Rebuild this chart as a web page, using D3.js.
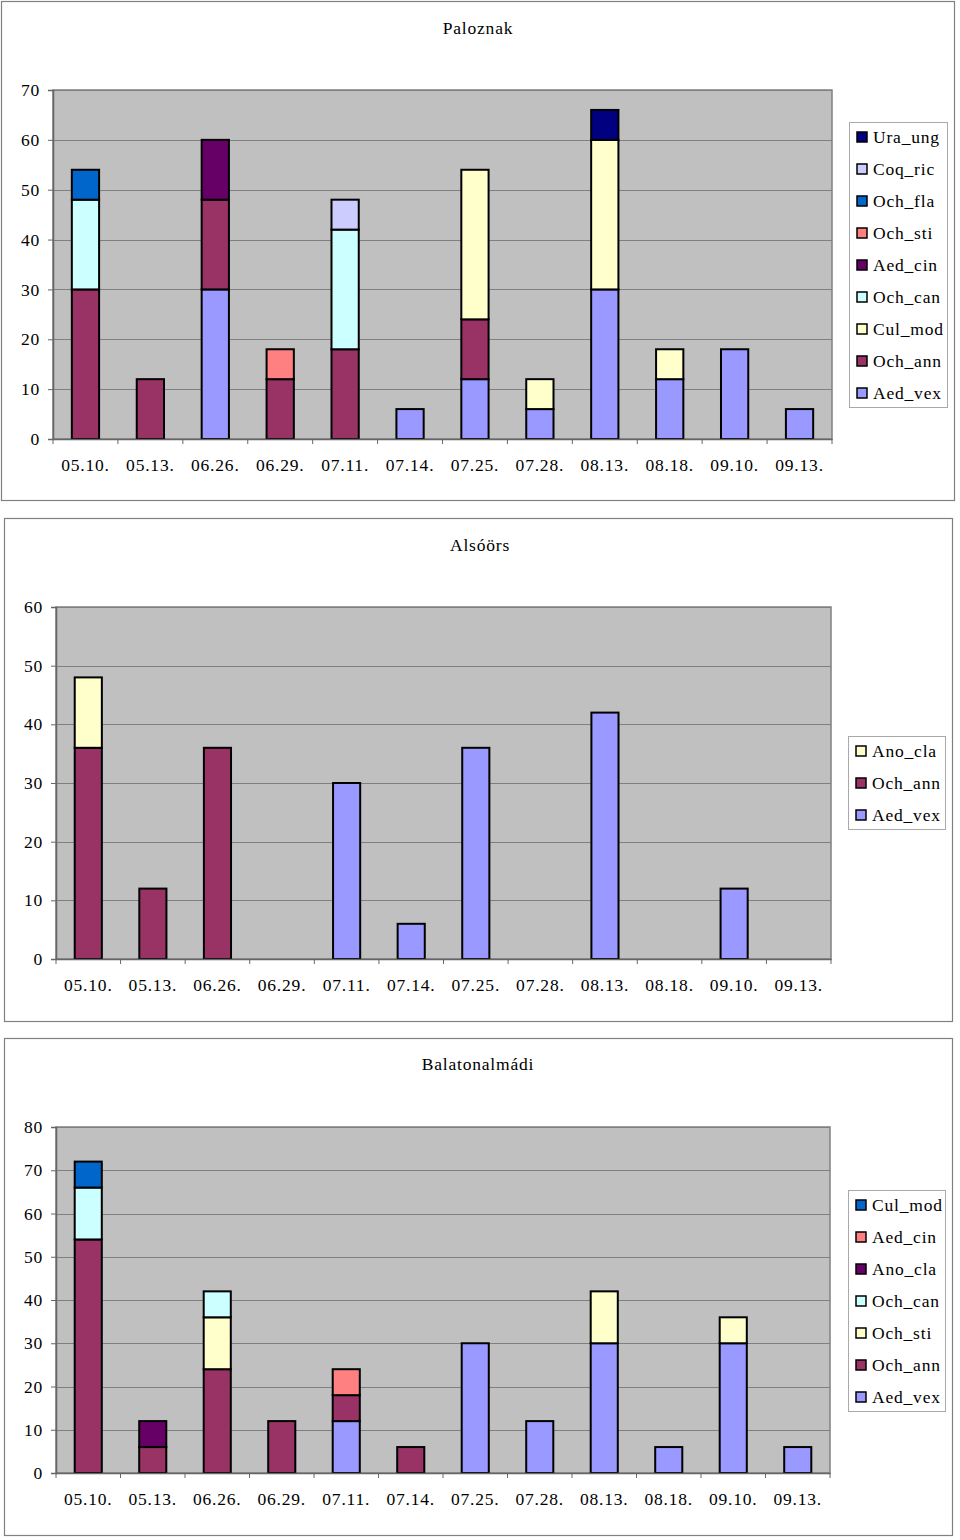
<!DOCTYPE html>
<html>
<head>
<meta charset="utf-8">
<script src="https://cdn.jsdelivr.net/npm/d3@7"></script>
<style>
  body { margin: 0; background: #fff; }
  svg text { font-family: "Liberation Serif", "Times New Roman", serif; font-size: 17.5px; letter-spacing: 0.8px; fill: #000; }
</style>
</head>
<body>
<svg id="chart" width="960" height="1540"></svg>
<script>
// ---------- DATA ----------
const categories = ["05.10.", "05.13.", "06.26.", "06.29.", "07.11.", "07.14.", "07.25.", "07.28.", "08.13.", "08.18.", "09.10.", "09.13."];

// Paloznak (stack order bottom -> top)
const palSeries = ["Aed_vex", "Och_ann", "Cul_mod", "Och_can", "Aed_cin", "Och_sti", "Och_fla", "Coq_ric", "Ura_ung"];
const palColors = ["#9999FF", "#993366", "#FFFFCC", "#CCFFFF", "#660066", "#FF8080", "#0066CC", "#CCCCFF", "#000080"];
const palAedVex = [0, 0, 30, 0, 0, 6, 12, 6, 30, 12, 18, 6];
const palOchAnn = [30, 12, 18, 12, 18, 0, 12, 0, 0, 0, 0, 0];
const palCulMod = [0, 0, 0, 0, 0, 0, 30, 6, 30, 6, 0, 0];
const palOchCan = [18, 0, 0, 0, 24, 0, 0, 0, 0, 0, 0, 0];
const palAedCin = [0, 0, 12, 0, 0, 0, 0, 0, 0, 0, 0, 0];
const palOchSti = [0, 0, 0, 6, 0, 0, 0, 0, 0, 0, 0, 0];
const palOchFla = [6, 0, 0, 0, 0, 0, 0, 0, 0, 0, 0, 0];
const palCoqRic = [0, 0, 0, 0, 6, 0, 0, 0, 0, 0, 0, 0];
const palUraUng = [0, 0, 0, 0, 0, 0, 0, 0, 6, 0, 0, 0];
const palTicks = [0, 10, 20, 30, 40, 50, 60, 70];

// Alsóörs
const alsSeries = ["Aed_vex", "Och_ann", "Ano_cla"];
const alsColors = ["#9999FF", "#993366", "#FFFFCC"];
const alsAedVex = [0, 0, 0, 0, 30, 6, 36, 0, 42, 0, 12, 0];
const alsOchAnn = [36, 12, 36, 0, 0, 0, 0, 0, 0, 0, 0, 0];
const alsAnoCla = [12, 0, 0, 0, 0, 0, 0, 0, 0, 0, 0, 0];
const alsTicks = [0, 10, 20, 30, 40, 50, 60];

// Balatonalmádi
const balSeries = ["Aed_vex", "Och_ann", "Och_sti", "Och_can", "Ano_cla", "Aed_cin", "Cul_mod"];
const balColors = ["#9999FF", "#993366", "#FFFFCC", "#CCFFFF", "#660066", "#FF8080", "#0066CC"];
const balAedVex = [0, 0, 0, 0, 12, 0, 30, 12, 30, 6, 30, 6];
const balOchAnn = [54, 6, 24, 12, 6, 6, 0, 0, 0, 0, 0, 0];
const balOchSti = [0, 0, 12, 0, 0, 0, 0, 0, 12, 0, 6, 0];
const balOchCan = [12, 0, 6, 0, 0, 0, 0, 0, 0, 0, 0, 0];
const balAnoCla = [0, 6, 0, 0, 0, 0, 0, 0, 0, 0, 0, 0];
const balAedCin = [0, 0, 0, 0, 6, 0, 0, 0, 0, 0, 0, 0];
const balCulMod = [6, 0, 0, 0, 0, 0, 0, 0, 0, 0, 0, 0];
const balTicks = [0, 10, 20, 30, 40, 50, 60, 70, 80];

// ---------- DRAW ----------
const svg = d3.select("#chart");

function drawPanel(p) {
  const g = svg.append("g");
  // outer frame
  g.append("rect").attr("x", p.frame[0] + 0.5).attr("y", p.frame[1] + 0.5)
    .attr("width", p.frame[2]).attr("height", p.frame[3])
    .attr("fill", "#fff").attr("stroke", "#808080").attr("stroke-width", 1.2);

  // title
  g.append("text").attr("x", p.titleX).attr("y", p.titleY).attr("text-anchor", "middle")
    .text(p.title);

  const x = d3.scaleBand().domain(categories).range([p.plot[0], p.plot[2]]).padding(0);
  const y = d3.scaleLinear().domain([0, d3.max(p.ticks)]).range([p.plot[3], p.plot[1]]);

  // plot background
  g.append("rect").attr("x", p.plot[0]).attr("y", p.plot[1])
    .attr("width", p.plot[2] - p.plot[0]).attr("height", p.plot[3] - p.plot[1])
    .attr("fill", "#C0C0C0").attr("stroke", "#808080").attr("stroke-width", 1.5);

  // grid lines
  g.selectAll(".grid").data(p.ticks.slice(1)).enter().append("line")
    .attr("x1", p.plot[0]).attr("x2", p.plot[2])
    .attr("y1", d => Math.round(y(d)) + 0.5).attr("y2", d => Math.round(y(d)) + 0.5)
    .attr("stroke", "#808080").attr("stroke-width", 1);

  // stacked bars
  const rows = categories.map((c, i) => {
    const o = { cat: c };
    p.series.forEach((s, k) => { o[s] = p.values[k][i]; });
    return o;
  });
  const stack = d3.stack().keys(p.series)(rows);
  const bw = x.bandwidth() * 0.42;
  stack.forEach((layer, k) => {
    g.selectAll(null).data(layer.filter(d => d[1] - d[0] > 0)).enter().append("rect")
      .attr("x", d => x(d.data.cat) + (x.bandwidth() - bw) / 2)
      .attr("y", d => y(d[1]))
      .attr("width", bw)
      .attr("height", d => y(d[0]) - y(d[1]))
      .attr("fill", p.colors[k])
      .attr("stroke", "#000").attr("stroke-width", 2);
  });

  // y axis
  const yAxis = g.append("g").attr("transform", `translate(${p.plot[0]},0)`)
    .call(d3.axisLeft(y).tickValues(p.ticks).tickSize(5).tickPadding(8).tickFormat(d3.format("d")));
  yAxis.select(".domain").attr("stroke", "#666").attr("stroke-width", 1.5);
  yAxis.selectAll(".tick line").attr("stroke", "#666");
  yAxis.selectAll("text").style("font-size", "17.5px");

  // x axis
  const xAxis = g.append("g").attr("transform", `translate(0,${p.plot[3]})`)
    .call(d3.axisBottom(x).tickSize(0).tickPadding(20));
  xAxis.select(".domain").attr("stroke", "#666").attr("stroke-width", 1.5);
  xAxis.selectAll("text").style("font-size", "17.5px");
  // separator ticks between categories
  g.selectAll(null).data(categories.concat(["end"])).enter().append("line")
    .attr("x1", (d, i) => p.plot[0] + i * x.step()).attr("x2", (d, i) => p.plot[0] + i * x.step())
    .attr("y1", p.plot[3]).attr("y2", p.plot[3] + 5)
    .attr("stroke", "#666");

  // legend
  const n = p.series.length;
  g.append("rect").attr("x", p.legend[0] + 0.5).attr("y", p.legend[1] + 0.5)
    .attr("width", p.legend[2]).attr("height", n * 32 - 3)
    .attr("fill", "#fff").attr("stroke", "#aaa").attr("stroke-width", 1);
  const order = p.series.map((s, k) => k).reverse();
  order.forEach((k, j) => {
    const cy = p.legend[1] + 15 + j * 32;
    g.append("rect").attr("x", p.legend[0] + 8).attr("y", cy - 5)
      .attr("width", 10).attr("height", 10)
      .attr("fill", p.colors[k]).attr("stroke", "#000").attr("stroke-width", 1.5);
    g.append("text").attr("x", p.legend[0] + 24).attr("y", cy + 6).text(p.series[k]);
  });
}

drawPanel({
  title: "Paloznak", titleX: 478, titleY: 34,
  frame: [1, 1, 953, 499],
  plot: [53, 90, 832, 439],
  ticks: palTicks, series: palSeries, colors: palColors,
  values: [palAedVex, palOchAnn, palCulMod, palOchCan, palAedCin, palOchSti, palOchFla, palCoqRic, palUraUng],
  legend: [849, 122, 98]
});

drawPanel({
  title: "Alsóörs", titleX: 480, titleY: 551,
  frame: [4, 518, 948, 503],
  plot: [56, 607, 831, 959],
  ticks: alsTicks, series: alsSeries, colors: alsColors,
  values: [alsAedVex, alsOchAnn, alsAnoCla],
  legend: [848, 736, 97]
});

drawPanel({
  title: "Balatonalmádi", titleX: 478, titleY: 1070,
  frame: [4, 1038, 948, 497],
  plot: [56, 1127, 830, 1473],
  ticks: balTicks, series: balSeries, colors: balColors,
  values: [balAedVex, balOchAnn, balOchSti, balOchCan, balAnoCla, balAedCin, balCulMod],
  legend: [848, 1190, 97]
});
</script>
</body>
</html>
